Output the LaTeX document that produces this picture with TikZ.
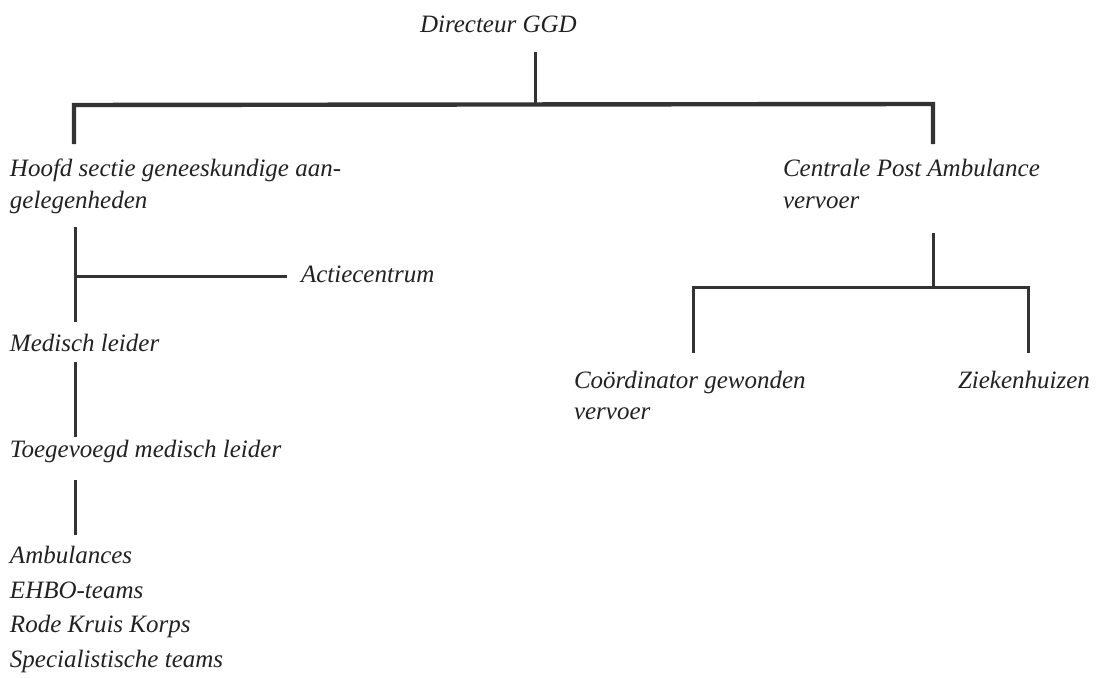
\documentclass[tikz,border=0pt]{standalone}
\usepackage{fontspec}
\setmainfont{Liberation Serif}
\definecolor{ink}{HTML}{222222}
\definecolor{rule}{HTML}{333333}
\begin{document}
\begin{tikzpicture}[x=0.5pt,y=-0.5pt,
  lbl/.style={anchor=base west,inner sep=0pt,outer sep=0pt,text=ink,align=left,
    font=\fontsize{12.5}{16}\selectfont\itshape},
  conn/.style={draw=rule,line width=1.5pt},
  bar/.style={draw=rule,line width=2.2pt}]
\useasboundingbox[fill=white] (0,0) rectangle (1097,678);
% nodes (anchor = baseline of the last line)
\node[lbl] (dir) at (420,33) {Directeur GGD};
\node[lbl] (hoofd) at (10,209) {Hoofd sectie geneeskundige aan-\\gelegenheden};
\node[lbl] (cpa) at (783,209) {Centrale Post Ambulance\\vervoer};
\node[lbl] (actie) at (301,283) {Actiecentrum};
\node[lbl] (med) at (10,352) {Medisch leider};
\node[lbl] (toe) at (10,458) {Toegevoegd medisch leider};
\node[lbl,font=\fontsize{12.5}{17.25}\selectfont\itshape] (teams) at (10,667)
  {Ambulances\\EHBO-teams\\Rode Kruis Korps\\Specialistische teams};
\node[lbl] (coord) at (574,420) {Coördinator gewonden\\vervoer};
\node[lbl] (zie) at (958,388) {Ziekenhuizen};
% coordinates
\coordinate (d1) at (535,52);
\coordinate (d2) at (535,105);
\coordinate (bl) at (74,105);
\coordinate (br) at (933,104);
\coordinate (hl) at (74,142);
\coordinate (hr) at (933,142);
\coordinate (h1) at (75,227);
\coordinate (h2) at (75,322);
\coordinate (ha) at (75,277);
\coordinate (ae) at (287,277);
\coordinate (m1) at (75,362);
\coordinate (m2) at (75,437);
\coordinate (t1) at (75,480);
\coordinate (t2) at (75,535);
\coordinate (c1) at (933,233);
\coordinate (c2) at (933,288);
\coordinate (cl) at (693,288);
\coordinate (cr) at (1028,288);
\coordinate (cl2) at (693,353);
\coordinate (cr2) at (1028,353);
% connectors
\draw[conn] (d1) -- (d2);
\draw[bar,line cap=rect] (hl) -- (bl) -- (br) -- (hr);
\draw[conn] (h1) -- (h2);
\draw[conn] (ha) -- (ae);
\draw[conn] (m1) -- (m2);
\draw[conn] (t1) -- (t2);
\draw[conn] (c1) -- (c2);
\draw[conn] (cl2) -- (cl) -- (cr) -- (cr2);
\end{tikzpicture}
\end{document}
